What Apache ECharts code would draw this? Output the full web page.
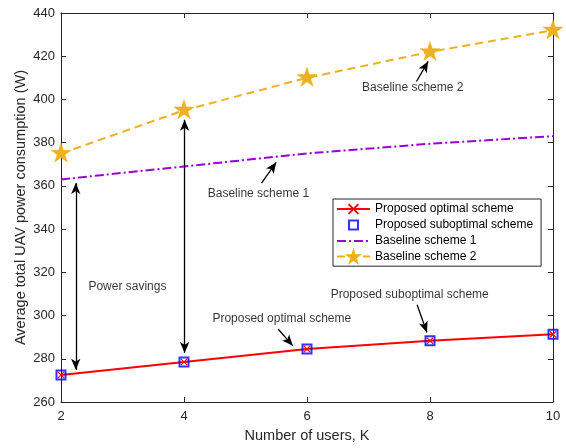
<!DOCTYPE html>
<html>
<head>
<meta charset="utf-8">
<script src="https://cdn.jsdelivr.net/npm/echarts@6/dist/echarts.min.js"></script>
<style>
html,body{margin:0;padding:0;background:#fff;}
#chart{width:566px;height:448px;}
</style>
</head>
<body>
<div id="chart"></div>
<script>
// ---- data ----
const usersK = [2, 4, 6, 8, 10];
const proposedOptimal = [272.5, 278.5, 284.5, 288.3, 291.3];
const proposedSuboptimal = [272.5, 278.5, 284.5, 288.3, 291.3];
const baseline1 = [363, 369, 375, 379.5, 383];
const baseline2 = [375, 395, 410, 422, 432];
const seriesNames = ['Proposed optimal scheme', 'Proposed suboptimal scheme', 'Baseline scheme 1', 'Baseline scheme 2'];
const xTickRange = [2, 10, 2];
const yTickRange = [260, 440, 20];

// annotation texts (data coordinates)
const noteTexts = [
  { name: 'Power savings', at: [3.08, 313.5] },
  { name: 'Baseline scheme 1', at: [5.21, 356.2] },
  { name: 'Baseline scheme 2', at: [7.72, 405.3] },
  { name: 'Proposed optimal scheme', at: [5.59, 298.4] },
  { name: 'Proposed suboptimal scheme', at: [7.67, 309.6] }
];
// annotation arrows: from, to, double-headed?
const noteArrows = [
  { from: [2.24, 274.9], to: [2.24, 361.3], both: true },
  { from: [4.01, 282.7], to: [4.01, 390.6], both: true },
  { from: [5.26, 361.3], to: [5.50, 370.9], both: false },
  { from: [7.78, 408.3], to: [7.97, 417.6], both: false },
  { from: [5.53, 293.8], to: [5.77, 286.0], both: false },
  { from: [7.79, 305.0], to: [7.95, 292.2], both: false }
];

const FONT = "'Liberation Sans', Arial, Helvetica, sans-serif";
const AX = '#262626';
const xMarker = 'path://M0,1.2L1.2,0L5,3.8L8.8,0L10,1.2L6.2,5L10,8.8L8.8,10L5,6.2L1.2,10L0,8.8L3.8,5Z';
const starMarker = 'path://M50,0L61.2,34.5L97.6,34.5L68.2,55.9L79.4,90.5L50,69.1L20.6,90.5L31.8,55.9L2.4,34.5L38.8,34.5Z';
const squareFrameIcon = 'path://M0,0L0,0M14,14L14,14M1.5,1.5H12.5V12.5H1.5ZM3.5,3.5V10.5H10.5V3.5Z';

const pairs = arr => usersK.map((k, i) => [k, arr[i]]);

const axisCommon = {
  axisLine: { show: true, onZero: false, lineStyle: { color: AX, width: 1 } },
  axisTick: { show: true, inside: true, length: 5, lineStyle: { color: AX } },
  splitLine: { show: false }
};

const chart = echarts.init(document.getElementById('chart'));
chart.setOption({
  animation: false,
  backgroundColor: '#fff',
  textStyle: { fontFamily: FONT },
  grid: { left: 61, right: 13, top: 13, bottom: 46, containLabel: false },
  legend: {
    data: [
      seriesNames[0],
      { name: seriesNames[1], icon: squareFrameIcon, itemStyle: { color: '#0000FF', borderWidth: 0 } },
      seriesNames[2],
      seriesNames[3]
    ],
    orient: 'vertical',
    left: 333, top: 199,
    backgroundColor: '#fff',
    borderColor: AX, borderWidth: 1,
    padding: [4, 8, 3, 3],
    itemWidth: 33, itemHeight: 14, itemGap: 3,
    textStyle: { fontFamily: FONT, fontSize: 12, color: '#000' }
  },
  xAxis: [
    Object.assign({
      type: 'value', position: 'bottom', min: xTickRange[0], max: xTickRange[1], interval: xTickRange[2],
      name: 'Number of users, K', nameLocation: 'middle', nameGap: 26, nameMoveOverlap: false,
      nameTextStyle: { fontFamily: FONT, fontSize: 14.5, color: AX },
      axisLabel: { fontFamily: FONT, fontSize: 13, color: AX, margin: 8 }
    }, axisCommon),
    Object.assign({
      type: 'value', position: 'top', min: xTickRange[0], max: xTickRange[1], interval: xTickRange[2],
      axisLabel: { show: false }
    }, axisCommon)
  ],
  yAxis: [
    Object.assign({
      type: 'value', position: 'left', min: yTickRange[0], max: yTickRange[1], interval: yTickRange[2],
      name: 'Average total UAV power consumption (W)', nameLocation: 'middle', nameGap: 33, nameMoveOverlap: false,
      nameTextStyle: { fontFamily: FONT, fontSize: 14.5, color: AX },
      axisLabel: { fontFamily: FONT, fontSize: 13, color: AX, margin: 6 }
    }, axisCommon),
    Object.assign({
      type: 'value', position: 'right', min: yTickRange[0], max: yTickRange[1], interval: yTickRange[2],
      axisLabel: { show: false }
    }, axisCommon)
  ],
  series: [
    {
      name: seriesNames[2], type: 'line', data: pairs(baseline1),
      showSymbol: false, symbol: 'circle',
      lineStyle: { color: '#9B00D3', width: 2, type: [9, 3, 2, 3] },
      itemStyle: { color: 'rgba(0,0,0,0)', borderWidth: 0 },
      z: 2
    },
    {
      name: seriesNames[3], type: 'line', data: pairs(baseline2),
      symbol: starMarker, symbolSize: [20, 19], symbolOffset: [0, -1],
      lineStyle: { color: '#EDB120', width: 2, type: [8, 5] },
      itemStyle: { color: '#EDB120', borderColor: '#EDB120', borderWidth: 0.5 },
      z: 3
    },
    {
      name: seriesNames[0], type: 'line', data: pairs(proposedOptimal),
      symbol: xMarker, symbolSize: 7,
      lineStyle: { color: '#FF0000', width: 2 },
      itemStyle: { color: '#FF0000' },
      z: 4
    },
    {
      name: seriesNames[1], type: 'scatter', data: pairs(proposedSuboptimal),
      symbol: 'rect', symbolSize: 9,
      itemStyle: { color: 'rgba(0,0,0,0)', borderColor: '#0000FF', borderWidth: 2 },
      z: 5
    },
    {
      name: 'annotations', type: 'scatter',
      data: noteTexts.map(n => ({ name: n.name, value: n.at })),
      symbolSize: 1,
      itemStyle: { color: 'rgba(0,0,0,0)' },
      label: { show: true, position: 'inside', formatter: '{b}', fontFamily: FONT, fontSize: 12, color: '#000' },
      silent: true,
      z: 6,
      markLine: {
        silent: true, animation: false,
        symbolSize: [7, 11],
        label: { show: false },
        lineStyle: { color: '#000', width: 1.3, type: 'solid' },
        emphasis: { disabled: true },
        data: noteArrows.map(a => [
          { coord: a.from, symbol: a.both ? 'arrow' : 'none' },
          { coord: a.to, symbol: 'arrow' }
        ])
      }
    }
  ]
});
</script>
</body>
</html>
